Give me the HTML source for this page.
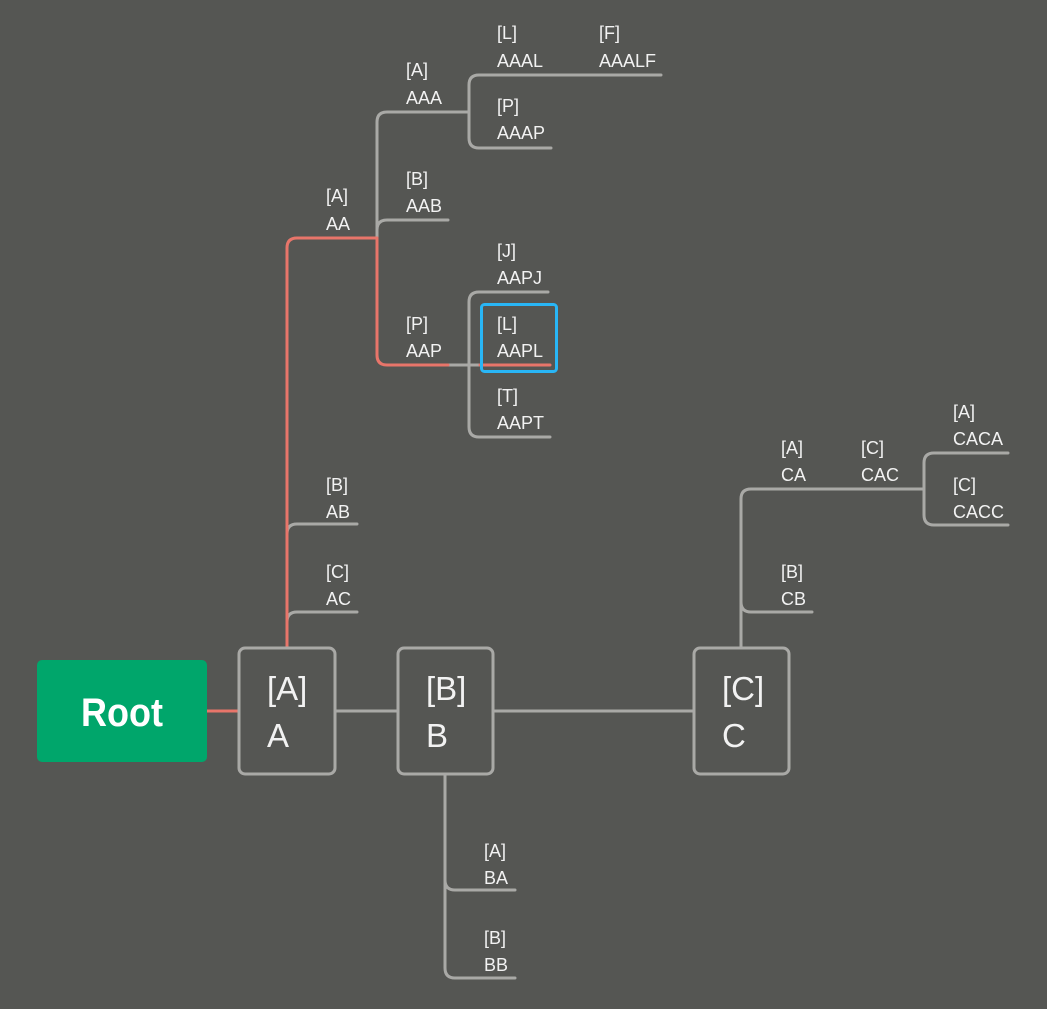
<!DOCTYPE html>
<html><head><style>
html,body{margin:0;padding:0;background:#555653;}
svg text{font-family:"Liberation Sans Narrow","Liberation Sans",sans-serif;fill:#f2f2f2;}
.l{font-size:18px;}
.b{font-size:33px;}
</style></head><body>
<svg width="1047" height="1004" viewBox="0 0 1047 1004" xmlns="http://www.w3.org/2000/svg">
<rect width="1047" height="1004" fill="#555653"/>
<g fill="none" stroke-width="3" stroke-linecap="round">
<g stroke="#a9a9a6">
<path d="M335 711H398M493 711H694"/>
<path d="M287 640V622Q287 612 297 612H357"/>
<path d="M287 540V534Q287 524 297 524H357"/>
<path d="M377 238V122Q377 112 387 112H468"/>
<path d="M377 230Q377 220 387 220H448"/>
<path d="M448 365H480"/>
<path d="M469 112V85Q469 75 479 75H661"/>
<path d="M469 112V138Q469 148 479 148H551"/>
<path d="M469 365V302Q469 292 479 292H548"/>
<path d="M469 365V427Q469 437 479 437H550"/>
<path d="M445 774V968Q445 978 455 978H515"/>
<path d="M445 880Q445 890 455 890H515"/>
<path d="M741 648V499Q741 489 751 489H924"/>
<path d="M741 602Q741 612 751 612H812"/>
<path d="M924 489V463Q924 453 934 453H1008"/>
<path d="M924 489V515Q924 525 934 525H1008"/>
</g>
<g stroke="#e8756a">
<path d="M207 711H238"/>
<path d="M287 648V248Q287 238 297 238H377"/>
<path d="M377 238V355Q377 365 387 365H448"/>
<path d="M480 365H550"/>
</g>
</g>
<rect x="37" y="660" width="170" height="102" rx="5" fill="#00a66b"/>
<text x="122" y="726" text-anchor="middle" transform="translate(122 0) scale(0.9 1) translate(-122 0)" style="font-size:40px;font-weight:bold;fill:#fff">Root</text>
<g fill="#555653" stroke="#a9a9a6" stroke-width="3">
<rect x="239" y="648" width="96" height="126" rx="6"/>
<rect x="398" y="648" width="95" height="126" rx="6"/>
<rect x="694" y="648" width="95" height="126" rx="6"/>
</g>
<rect x="481.5" y="304.5" width="75" height="67" rx="3" fill="none" stroke="#29b6f6" stroke-width="3"/>
<g class="b">
<text x="267" y="700">[A]</text><text x="267" y="747">A</text>
<text x="426" y="700">[B]</text><text x="426" y="747">B</text>
<text x="722" y="700">[C]</text><text x="722" y="747">C</text>
</g>
<g class="l">
<text x="326" y="202">[A]</text><text x="326" y="230">AA</text>
<text x="326" y="491">[B]</text><text x="326" y="518">AB</text>
<text x="326" y="578">[C]</text><text x="326" y="605">AC</text>
<text x="406" y="76">[A]</text><text x="406" y="104">AAA</text>
<text x="406" y="185">[B]</text><text x="406" y="212">AAB</text>
<text x="406" y="330">[P]</text><text x="406" y="357">AAP</text>
<text x="497" y="39">[L]</text><text x="497" y="67">AAAL</text>
<text x="599" y="39">[F]</text><text x="599" y="67">AAALF</text>
<text x="497" y="112">[P]</text><text x="497" y="139">AAAP</text>
<text x="497" y="257">[J]</text><text x="497" y="284">AAPJ</text>
<text x="497" y="330">[L]</text><text x="497" y="357">AAPL</text>
<text x="497" y="402">[T]</text><text x="497" y="429">AAPT</text>
<text x="484" y="857">[A]</text><text x="484" y="884">BA</text>
<text x="484" y="944">[B]</text><text x="484" y="971">BB</text>
<text x="781" y="454">[A]</text><text x="781" y="481">CA</text>
<text x="861" y="454">[C]</text><text x="861" y="481">CAC</text>
<text x="781" y="578">[B]</text><text x="781" y="605">CB</text>
<text x="953" y="418">[A]</text><text x="953" y="445">CACA</text>
<text x="953" y="491">[C]</text><text x="953" y="518">CACC</text>
</g>
</svg>
</body></html>
